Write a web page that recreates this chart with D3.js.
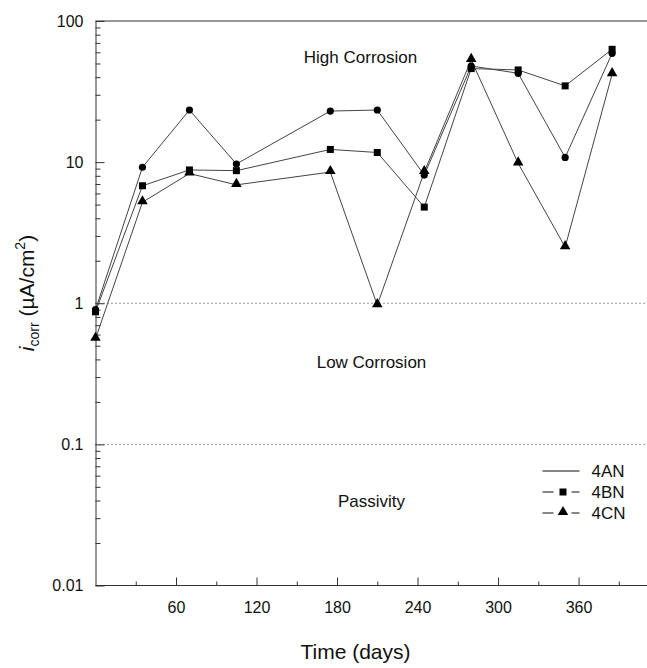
<!DOCTYPE html>
<html>
<head>
<meta charset="utf-8">
<script src="https://cdn.jsdelivr.net/npm/d3@7"></script>
<style>
  body { margin: 0; background: #fff; }
  svg { font-family: "Liberation Sans", Arial, sans-serif; }
  .axis path, .axis line { stroke: #333; }
  .dotted { stroke: #333; stroke-dasharray: 1 3; fill: none; }
  .line { fill: none; stroke: #444; stroke-width: 1; }
</style>
</head>
<body>
<div id="chart"></div>
<script>
// Sampling days (every 5 weeks, 140 missing)
const days = [0, 35, 70, 105, 175, 210, 245, 280, 315, 350, 385];
const series_names = ['4AN', '4BN', '4CN'];
const icorr_4AN = [0.9, 9.2, 23.4, 9.7, 23, 23.4, 8.1, 48, 42.6, 10.8, 59];
const icorr_4BN = [0.87, 6.8, 8.8, 8.7, 12.3, 11.7, 4.8, 46, 45, 34.7, 63];
const icorr_4CN = [0.56, 5.2, 8.3, 6.9, 8.5, 0.97, 8.5, 53, 9.8, 2.5, 42];
const x_ticks = [60, 120, 180, 240, 300, 360];
const y_ticks = [0.01, 0.1, 1, 10, 100];
const thresholds = [1, 0.1];
const zone_names = ['High Corrosion', 'Low Corrosion', 'Passivity'];
const zone_levels = [50, 0.346, 0.036];

function addAxes(svg, xScale, yScale, width, height) {
  // Bottom axis, ticks pointing inwards
  svg.append('g')
    .attr('class', 'x axis')
    .attr('transform', `translate(0,${height})`)
    .call(d3.axisBottom(xScale).tickValues(x_ticks).tickSizeInner(-8).tickSizeOuter(0).tickPadding(16))
    .call(g => g.select('.domain').attr('d', `M0,0H${width}`));
  const minor_x = d3.range(30, 411, 60);
  svg.append('g')
    .attr('class', 'x axis')
    .attr('transform', `translate(0,${height})`)
    .call(d3.axisBottom(xScale).tickValues(minor_x).tickSize(-4).tickFormat(''))
    .call(g => g.select('.domain').remove());
  // Left axis, log scale with minor ticks
  svg.append('g')
    .attr('class', 'y axis')
    .call(d3.axisLeft(yScale).tickValues(y_ticks).tickSizeInner(-9).tickSizeOuter(0)
          .tickPadding(12).tickFormat(d => d >= 1 ? d3.format('d')(d) : String(d)));
  const minor_y = [];
  for (const base of [0.01, 0.1, 1, 10]) {
    for (let k = 2; k <= 9; k++) minor_y.push(base * k);
  }
  svg.append('g')
    .attr('class', 'y axis')
    .call(d3.axisLeft(yScale).tickValues(minor_y).tickSize(-5).tickFormat(''))
    .call(g => g.select('.domain').remove());
  svg.selectAll('.axis text').style('font-size', '16px').style('fill', '#111');
  // Top frame line
  svg.append('line')
    .attr('x1', 0).attr('x2', width)
    .attr('y1', 0).attr('y2', 0)
    .style('stroke', '#333');
}

function addSymbol(g, type, x, y) {
  if (type === 'circle') {
    g.append('circle').attr('cx', x).attr('cy', y).attr('r', 3.6).style('fill', '#000');
  } else if (type === 'square') {
    g.append('rect').attr('x', x - 3.5).attr('y', y - 3.5)
      .attr('width', 7).attr('height', 7).style('fill', '#000');
  } else {
    g.append('path').attr('d', d3.symbol().type(d3.symbolTriangle).size(48))
      .attr('transform', `translate(${x},${y - 1})`).style('fill', '#000');
  }
}

function plotData() {
  const margin = {top: 21, left: 95.5};
  const width = 647 - margin.left;
  const height = 564.5;
  const svg = d3.select('#chart')
        .append('svg')
        .attr('width', 647)
        .attr('height', 668)
        .append('g')
        .attr('transform', `translate(${margin.left},${margin.top})`);
  const xScale = d3.scaleLinear().domain([0, 411]).range([0, width]);
  const yScale = d3.scaleLog().domain([0.01, 100]).range([height, 0]);

  // Threshold lines
  svg.append('g')
    .selectAll('line')
    .data(thresholds)
    .enter().append('line')
    .attr('class', 'dotted')
    .attr('x1', 0).attr('x2', width)
    .attr('y1', d => yScale(d)).attr('y2', d => yScale(d));

  addAxes(svg, xScale, yScale, width, height);

  // Zone labels
  svg.append('g')
    .selectAll('text')
    .data(zone_names)
    .enter().append('text')
    .attr('x', (d, i) => i === 0 ? 265 : 276)
    .attr('y', (d, i) => yScale(zone_levels[i]))
    .attr('text-anchor', 'middle')
    .style('font-size', '17px')
    .style('fill', '#111')
    .text(d => d);

  const data = [icorr_4AN, icorr_4BN, icorr_4CN];
  const symbols = ['circle', 'square', 'triangle'];
  const line = d3.line().x((d, i) => xScale(days[i])).y(d => yScale(d));
  svg.append('g')
    .selectAll('path')
    .data(data)
    .enter().append('path')
    .attr('class', 'line')
    .attr('d', line);
  const dots = svg.append('g');
  data.forEach((s, k) => {
    s.forEach((v, i) => addSymbol(dots, symbols[k], xScale(days[i]), yScale(v)));
  });

  // Legend
  const legend = svg.append('g')
        .attr('transform', 'translate(447,450)');
  series_names.forEach((name, i) => {
    const g = legend.append('g').attr('transform', `translate(0,${i * 21})`);
    if (i === 0) {
      g.append('line').attr('x1', 0).attr('x2', 37).style('stroke', '#111');
    } else {
      g.append('line').attr('x1', 0).attr('x2', 11).style('stroke', '#111');
      g.append('line').attr('x1', 29).attr('x2', 37).style('stroke', '#111');
      addSymbol(g, symbols[i], 20.5, 0);
    }
    g.append('text')
      .attr('x', 49)
      .attr('dy', '.35em')
      .style('font-size', '17px')
      .style('fill', '#111')
      .text(name);
  });

  // Axis titles
  svg.append('text')
    .attr('x', 260)
    .attr('y', 638)
    .attr('text-anchor', 'middle')
    .style('font-size', '21px')
    .style('fill', '#111')
    .text('Time (days)');
  const ylab = svg.append('text')
        .attr('transform', 'translate(-62,272) rotate(-90)')
        .attr('text-anchor', 'middle')
        .style('font-size', '21px')
        .style('fill', '#111');
  ylab.append('tspan').style('font-style', 'italic').text('i');
  ylab.append('tspan').attr('dy', 5).style('font-size', '14px').text('corr');
  ylab.append('tspan').attr('dy', -5).text('\u00a0(\u00b5A/cm');
  ylab.append('tspan').attr('dy', -9).style('font-size', '14px').text('2');
  ylab.append('tspan').attr('dy', 9).text(')');
}

plotData();
</script>
</body>
</html>
